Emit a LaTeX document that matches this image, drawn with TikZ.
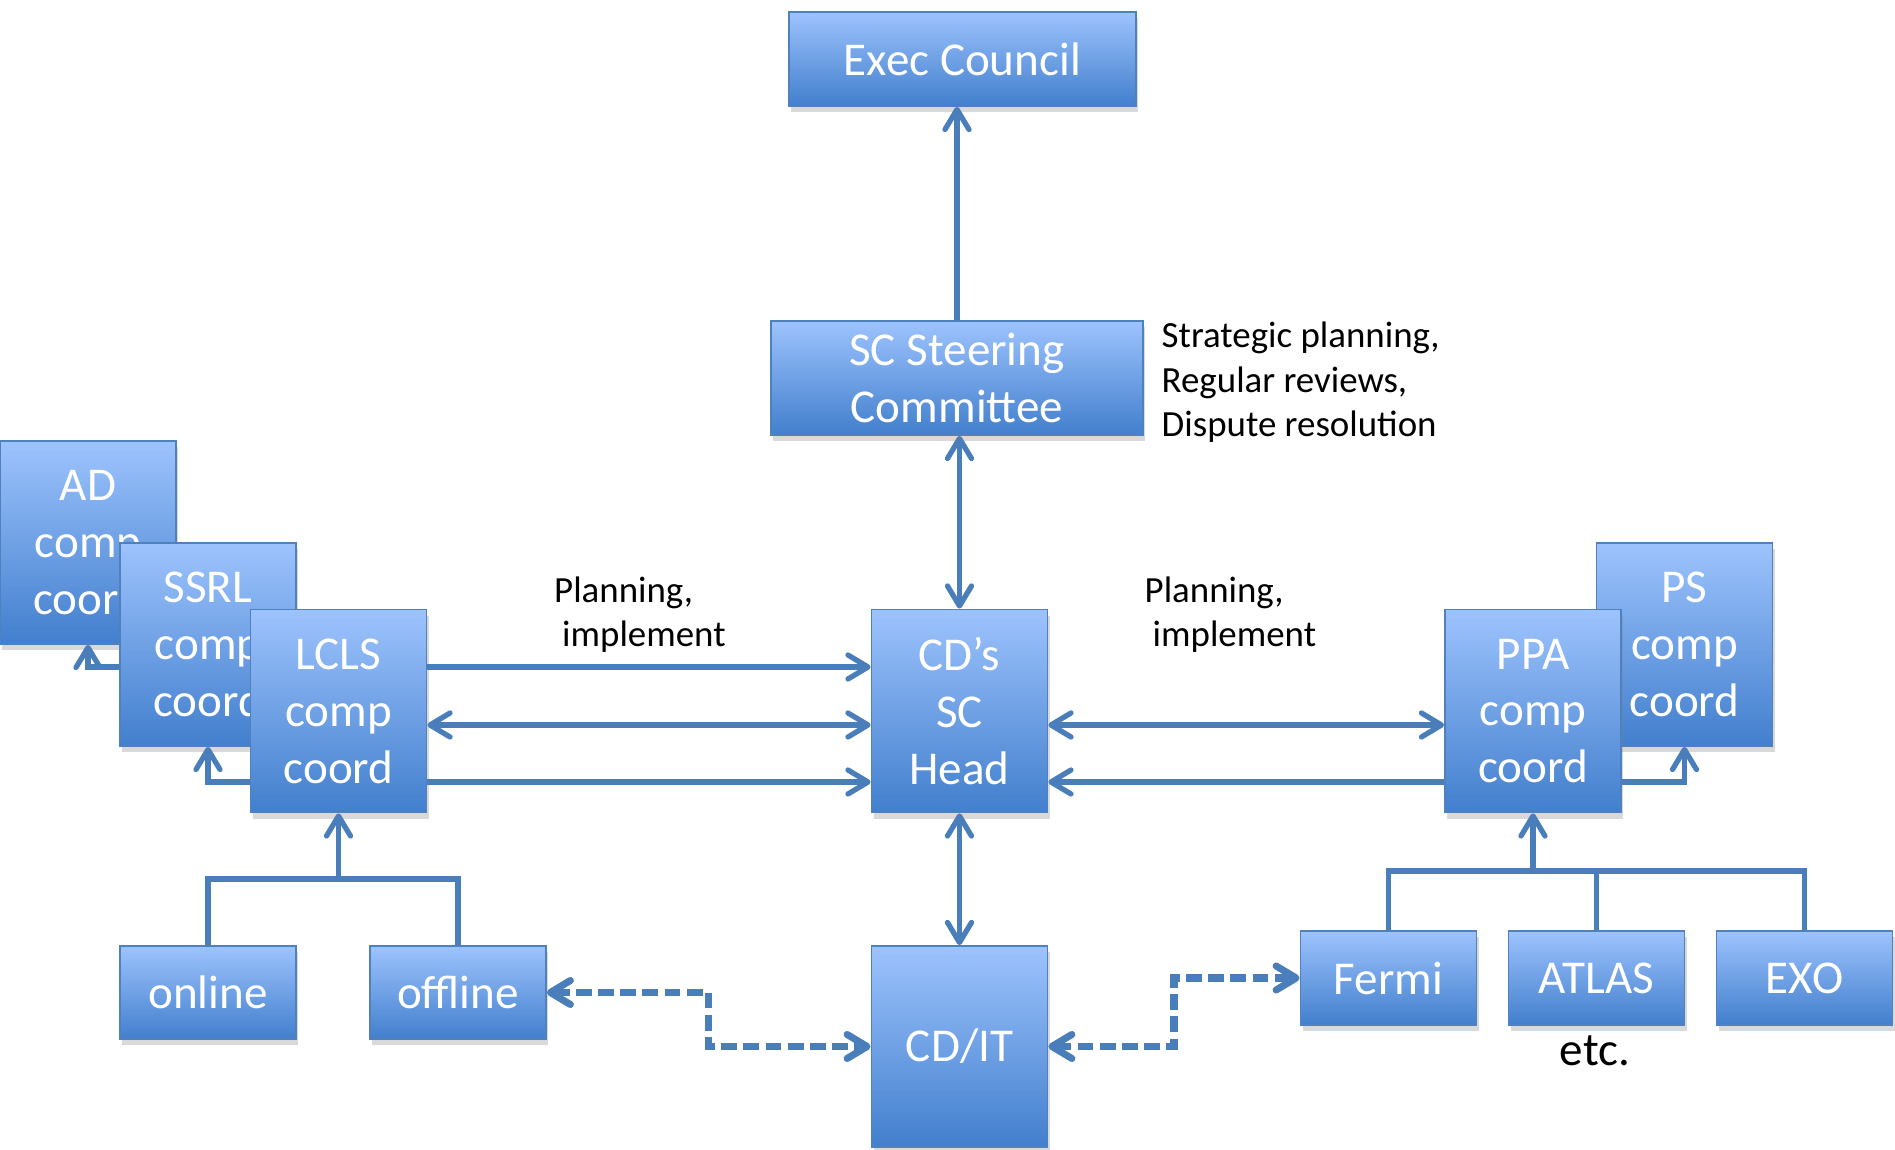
\documentclass[tikz,border=0pt]{standalone}
\usepackage{fontspec}
\setmainfont{Carlito}
\usetikzlibrary{arrows.meta, positioning, shadows, calc}

\definecolor{boxtop}{RGB}{157,195,253}
\definecolor{boxbot}{RGB}{66,127,205}
\definecolor{boxedge}{RGB}{79,129,189}
\definecolor{linkcol}{RGB}{74,126,187}

\newcommand{\boxfont}{\fontsize{13.4}{16.2}\selectfont}
\newcommand{\notefont}{\fontsize{10.5}{12.7}\selectfont}

\tikzset{
    unit/.style={rectangle, draw=boxedge, line width=0.5pt,
                 top color=boxtop, bottom color=boxbot, text=white,
                 font=\boxfont, align=center, inner sep=0pt,
                 minimum width=1.76cm,
                 drop shadow={shadow xshift=0.6pt, shadow yshift=-1.8pt, opacity=0.3}},
    coordbox/.style={unit, minimum height=2.03cm},
    expbox/.style={unit, minimum height=0.94cm},
    note/.style={font=\notefont, align=left, inner sep=0pt, anchor=west},
    link/.style={draw=linkcol, line width=1.5pt},
    arr/.style={link, -{Straight Barb[length=2mm, width=2.4mm, round]}},
    darr/.style={link, {Straight Barb[length=2mm, width=2.4mm, round]}-{Straight Barb[length=2mm, width=2.4mm, round]}},
    dlink/.style={darr, line width=2pt, dash pattern=on 4.5pt off 1.8pt}
}

\begin{document}
\begin{tikzpicture}
\useasboundingbox (0,0) rectangle (18.95,-11.5);

% top of the chain
\node[unit, minimum width=3.47cm, minimum height=0.94cm] at (9.625,-0.59) (exec) {Exec Council};
\node[unit, minimum width=3.72cm, minimum height=1.14cm] at (9.57,-3.78)  (scsc) {SC Steering\\Committee};
\node[note] at (11.61,-3.825) (duties) {Strategic planning,\\Regular reviews,\\Dispute resolution};

% lab coordinators, back to front
\node[coordbox] at (0.88,-5.425)  (ad)   {AD\\comp\\coord};
\node[coordbox] at (2.08,-6.445)  (ssrl) {SSRL\\comp\\coord};
\node[coordbox] at (3.385,-7.11)  (lcls) {LCLS\\comp\\coord};
\node[coordbox] at (9.595,-7.11)  (cdh)  {CD’s\\SC\\Head};
\node[coordbox] at (16.845,-6.445) (ps)  {PS\\comp\\coord};
\node[coordbox] at (15.33,-7.11)  (ppa)  {PPA\\comp\\coord};

% bottom row
\node[unit, minimum height=0.93cm] at (2.08,-9.925) (online)  {online};
\node[unit, minimum height=0.93cm] at (4.58,-9.925) (offline) {offline};
\node[unit, minimum height=2.01cm] at (9.595,-10.465) (cdit)  {CD/IT};
\node[expbox] at (13.885,-9.78) (fermi) {Fermi};
\node[expbox] at (15.965,-9.78) (atlas) {ATLAS};
\node[expbox] at (18.045,-9.78) (exo)   {EXO};
\node[font=\boxfont, inner sep=0pt] at (15.95,-10.51) (etc) {etc.};

\node[note] at (5.535,-6.145) (planl) {Planning,\\\hspace*{0.08cm}implement};
\node[note] at (11.44,-6.145) (planr) {Planning,\\\hspace*{0.08cm}implement};

% vertical links
\draw[arr]  (scsc.north) -- (scsc.north |- exec.south);
\draw[darr] (cdh.north) -- (cdh.north |- scsc.south);
\draw[darr] (cdh.south) -- (cdit.north);

% LCLS <-> CD head
\draw[arr]  (lcls.east |- 0,-6.67) -- (cdh.west |- 0,-6.67);
\draw[darr] (lcls.east |- 0,-7.25) -- (cdh.west |- 0,-7.25);
\draw[arr]  (lcls.east |- 0,-7.82) -- (cdh.west |- 0,-7.82);

% PPA <-> CD head
\draw[darr] (cdh.east |- 0,-7.25) -- (ppa.west |- 0,-7.25);
\draw[arr]  (ppa.west |- 0,-7.82) -- (cdh.east |- 0,-7.82);

% sideways to the other coordinators
\draw[arr] (lcls.west |- 0,-7.82) -| (ssrl.south);
\draw[arr] (ssrl.west |- 0,-6.67) -| (ad.south);
\draw[arr] (ppa.east |- 0,-7.82) -| (ps.south);

% feeder trees
\draw[link] (online.north) |- (lcls.south |- 0,-8.79) -| (offline.north);
\draw[arr]  (lcls.south |- 0,-8.79) -- (lcls.south);
\draw[link] (fermi.north) |- (ppa.south |- 0,-8.71) -| (exo.north);
\draw[link] (atlas.north) -- (atlas.north |- 0,-8.71);
\draw[arr]  (ppa.south |- 0,-8.71) -- (ppa.south);

% CD/IT service links
\draw[dlink] (offline.east) -| ($(offline.east)!0.5!(cdit.west)$) |- (cdit.west);
\draw[dlink] (cdit.east) -| ($(cdit.east)!0.5!(fermi.west)$) |- (fermi.west);
\end{tikzpicture}
\end{document}
